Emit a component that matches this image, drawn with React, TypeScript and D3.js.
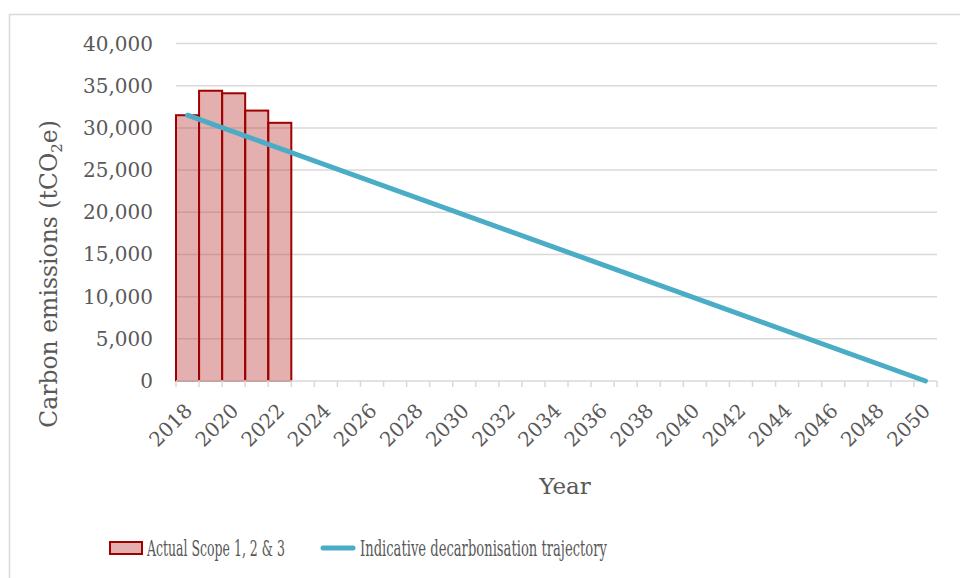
import { useEffect, useRef } from "react";
import * as d3 from "d3";

// Categorias (anos) e rótulos do eixo X
const ANOS = d3.range(2018, 2051).map(String);
const ROTULOS_X = ANOS.filter((_, i) => i % 2 === 0);

// Série de barras: emissões reais (Scope 1, 2 & 3)
const ANOS_REAIS = ["2018", "2019", "2020", "2021", "2022"];
const EMISSOES_REAIS = [31500, 34400, 34100, 32050, 30600];

// Trajetória indicativa (linha reta de 2018 até zero em 2050)
const TRAJETORIA_ANOS = ["2018", "2050"];
const TRAJETORIA_VALORES = [31500, 0];

// Ticks do eixo Y
const TICKS_Y = [0, 5000, 10000, 15000, 20000, 25000, 30000, 35000, 40000];

const COR_TEXTO = "#595959";
const COR_GRADE = "#d9d9d9";
const FONTE = "'DejaVu Serif', serif";

const App = () => {
  const svgRef = useRef<SVGSVGElement>(null);

  useEffect(() => {
    document.body.style.margin = "0";
    if (!svgRef.current) return;
    const width = 960;
    const height = 578;

    const svg = d3.select(svgRef.current);
    svg.selectAll("*").remove();
    svg.attr("width", width).attr("height", height).style("font-family", FONTE);

    // Borda da área do gráfico
    svg.append("rect")
      .attr("x", 9.5)
      .attr("y", 14.5)
      .attr("width", 1000)
      .attr("height", 1000)
      .attr("fill", "white")
      .attr("stroke", COR_GRADE)
      .attr("stroke-width", 1.5);

    const xScale = d3.scaleBand().domain(ANOS).range([176, 937]).padding(0);
    const yScale = d3.scaleLinear().domain([0, 40000]).range([381, 43.5]);

    // Grade horizontal
    svg.append("g")
      .selectAll("line")
      .data(TICKS_Y.filter((t) => t > 0))
      .enter()
      .append("line")
      .attr("x1", 176)
      .attr("x2", 937)
      .attr("y1", (d) => yScale(d))
      .attr("y2", (d) => yScale(d))
      .attr("stroke", COR_GRADE)
      .attr("stroke-width", 1.5);

    // Rótulos do eixo Y
    svg.append("g")
      .selectAll("text")
      .data(TICKS_Y)
      .enter()
      .append("text")
      .attr("x", 153)
      .attr("y", (d) => yScale(d) + 7)
      .attr("text-anchor", "end")
      .attr("fill", COR_TEXTO)
      .style("font-size", "20px")
      .text((d) => d3.format(",")(d));

    // Barras
    svg.append("g")
      .selectAll("rect")
      .data(EMISSOES_REAIS)
      .enter()
      .append("rect")
      .attr("x", (_, i) => xScale(ANOS_REAIS[i]) ?? 0)
      .attr("width", xScale.bandwidth())
      .attr("y", (d) => yScale(d))
      .attr("height", (d) => yScale(0) - yScale(d))
      .attr("fill", "#c0504d")
      .attr("fill-opacity", 0.45)
      .attr("stroke", "#a00000")
      .attr("stroke-width", 2);

    // Eixo X (linha e marcas entre categorias)
    const eixo = svg.append("g");
    eixo.append("line")
      .attr("x1", 176)
      .attr("x2", 937)
      .attr("y1", yScale(0))
      .attr("y2", yScale(0))
      .attr("stroke", COR_GRADE)
      .attr("stroke-width", 1.5);
    eixo.selectAll("line.tick")
      .data([...ANOS, "fim"])
      .enter()
      .append("line")
      .attr("class", "tick")
      .attr("x1", (d) => (d === "fim" ? 937 : xScale(d) ?? 0))
      .attr("x2", (d) => (d === "fim" ? 937 : xScale(d) ?? 0))
      .attr("y1", yScale(0))
      .attr("y2", yScale(0) + 6)
      .attr("stroke", COR_GRADE)
      .attr("stroke-width", 1.5);

    // Rótulos do eixo X (rotacionados)
    eixo.selectAll("text")
      .data(ROTULOS_X)
      .enter()
      .append("text")
      .attr("transform", (d) => {
        const cx = (xScale(d) ?? 0) + xScale.bandwidth() / 2 + 6;
        return `translate(${cx},${yScale(0) + 31}) rotate(-45)`;
      })
      .attr("text-anchor", "end")
      .attr("fill", COR_TEXTO)
      .style("font-size", "20px")
      .text((d) => d);

    // Linha da trajetória
    const linha = d3.line<number>()
      .x((_, i) => (xScale(TRAJETORIA_ANOS[i]) ?? 0) + xScale.bandwidth() / 2)
      .y((d) => yScale(d));
    svg.append("path")
      .datum(TRAJETORIA_VALORES)
      .attr("d", linha)
      .attr("fill", "none")
      .attr("stroke", "#4bacc6")
      .attr("stroke-width", 5)
      .attr("stroke-linecap", "round");

    // Título do eixo Y
    const tituloY = svg.append("text")
      .attr("transform", "translate(57,274) rotate(-90)")
      .attr("text-anchor", "middle")
      .attr("fill", COR_TEXTO)
      .style("font-size", "23.5px");
    tituloY.append("tspan").text("Carbon emissions (tCO");
    tituloY.append("tspan").attr("dy", 5).style("font-size", "15px").text("2");
    tituloY.append("tspan").attr("dy", -5).text("e)");

    // Título do eixo X
    svg.append("text")
      .attr("x", 565)
      .attr("y", 494)
      .attr("text-anchor", "middle")
      .attr("fill", COR_TEXTO)
      .style("font-size", "23px")
      .text("Year");

    // Legenda (texto comprimido na horizontal, como no original)
    const legenda = svg.append("g");
    const textoLegenda = (x: number, largura: number, texto: string) => {
      const t = legenda.append("text")
        .attr("fill", COR_TEXTO)
        .style("font-size", "22px")
        .text(texto);
      const natural = (t.node() as SVGTextElement).getComputedTextLength() || largura;
      t.attr("transform", `translate(${x},556) scale(${largura / natural},1)`);
    };

    legenda.append("rect")
      .attr("x", 110)
      .attr("y", 542)
      .attr("width", 32)
      .attr("height", 12)
      .attr("fill", "#c0504d")
      .attr("fill-opacity", 0.45)
      .attr("stroke", "#a00000")
      .attr("stroke-width", 2);
    textoLegenda(147, 138, "Actual Scope 1, 2 & 3");

    legenda.append("line")
      .attr("x1", 323)
      .attr("x2", 353)
      .attr("y1", 548)
      .attr("y2", 548)
      .attr("stroke", "#4bacc6")
      .attr("stroke-width", 5)
      .attr("stroke-linecap", "round");
    textoLegenda(360, 247, "Indicative decarbonisation trajectory");
  }, []);

  return (
    <div style={{ position: "absolute", left: 0, top: 0 }}>
      <svg ref={svgRef} />
    </div>
  );
};

export default App;
